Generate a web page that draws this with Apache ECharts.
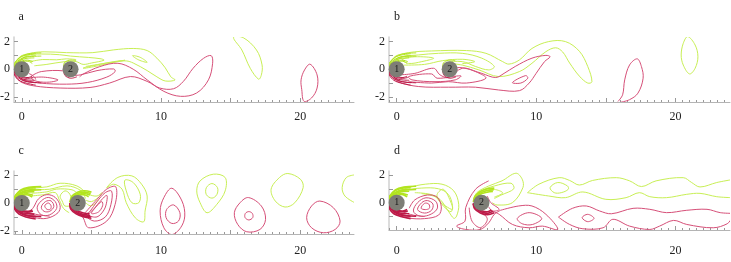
<!DOCTYPE html>
<html><head><meta charset="utf-8">
<style>html,body{margin:0;padding:0;background:#fff}#c{width:731px;height:262px}</style>
<script src="https://cdn.jsdelivr.net/npm/echarts@6/dist/echarts.min.js"></script>
</head><body><div id="c"></div>
<script>
// Tick values and labels
const xLabelTicks = [0, 10, 20];
const xMajorTicks = [0, 5, 10, 15, 20];
const xMinorTicks = [-0.5,0.5,1,1.5,2,2.5,3,3.5,4,4.5,5.5,6,6.5,7,7.5,8,8.5,9,9.5,10.5,11,11.5,12,12.5,13,13.5,14,14.5,15.5,16,16.5,17,17.5,18,18.5,19,19.5,20.5,21,21.5,22,22.5,23,23.5];
const yLabelTicks = [-2, 0, 2];
const yAllTicks = [-2, -1, 0, 1, 2];
const panelLetters = ['a', 'b', 'c', 'd'];
const cylinderNames = ['1', '2'];
const cylinderX = { a: [0, 3.5], b: [0, 3.8], c: [0, 4.02], d: [0, 6.08] };

// Shared crescents on the front of cylinder 1 (data units)
const frontGreen = [
 [[-.55,0],[-.52,.42],[-.2,.8],[.3,1.02],[1,1.12]],
 [[-.55,0],[-.46,.4],[-.12,.72],[.3,.9],[1,.98]],
 [[-.55,.03],[-.42,.36],[-.1,.64],[.3,.78],[.9,.82]],
 [[-.55,.05],[-.36,.4],[0,.6],[.4,.66],[.8,.55]],
 [[-.55,.05],[-.3,.32],[.05,.54],[.45,.58],[.75,.42]],
 [[-.5,.1],[-.25,.5],[.15,.82],[.7,.92],[1.4,.95]],
 [[-.5,.45],[-.1,.92],[.5,1.12],[1.4,1.18]]
];
const frontRed = [
 [[-.55,0],[-.52,-.42],[-.2,-.8],[.3,-1],[1,-1.15]],
 [[-.55,0],[-.46,-.4],[-.12,-.72],[.3,-.88],[1,-.98]],
 [[-.55,-.03],[-.42,-.36],[-.1,-.64],[.3,-.76],[.9,-.8]],
 [[-.55,-.05],[-.36,-.4],[0,-.6],[.4,-.66],[.8,-.6]],
 [[-.55,-.05],[-.3,-.32],[.05,-.54],[.45,-.6],[.75,-.5]],
 [[-.5,-.1],[-.25,-.5],[.15,-.82],[.7,-.94],[1.4,-.98]]
];

// Crescents on the front of cylinder 2, per panel
const aFrontGreen = [ [[3,.1],[3.05,.45],[3.4,.65],[3.9,.62]] ];
const aFrontRed = [ [[3,-.1],[3.1,-.45],[3.5,-.65],[3.95,-.55]] ];
const bFrontGreen = [ [[3.3,.1],[3.35,.45],[3.7,.65],[4.2,.62]] ];
const bFrontRed = [ [[3.3,-.1],[3.4,-.45],[3.8,-.65],[4.25,-.55]] ];
const cFrontGreen = [
 [[3.45,.05],[3.6,.5],[4,.78],[4.5,.88],[5,.78]],
 [[3.47,.05],[3.65,.45],[4.05,.7],[4.5,.78],[4.95,.68]],
 [[3.5,.05],[3.72,.42],[4.1,.62],[4.5,.68],[4.9,.58]],
 [[3.52,.1],[3.8,.4],[4.15,.58],[4.55,.58],[4.8,.45]]
];
const cFrontRed = [
 [[3.45,0],[3.5,-.42],[3.9,-.78],[4.4,-.98],[5,-1.1]],
 [[3.47,0],[3.58,-.42],[3.95,-.72],[4.4,-.9],[4.95,-1]],
 [[3.5,-.03],[3.65,-.4],[4,-.66],[4.4,-.82],[4.9,-.9]],
 [[3.52,-.05],[3.72,-.38],[4.05,-.6],[4.45,-.72],[4.85,-.78]]
];
const dFrontGreen = [
 [[5.5,.05],[5.6,.45],[6,.8],[6.5,1],[7,1.05]],
 [[5.53,.08],[5.7,.45],[6.05,.72],[6.5,.88],[6.95,.92]],
 [[5.56,.1],[5.8,.42],[6.1,.65],[6.5,.76],[6.9,.8]]
];
const dFrontRed = [
 [[5.5,-.03],[5.58,-.42],[6,-.74],[6.5,-.87],[7,-.72]],
 [[5.53,-.05],[5.68,-.4],[6.05,-.66],[6.5,-.77],[6.9,-.62]],
 [[5.56,-.05],[5.78,-.38],[6.1,-.58],[6.5,-.66],[6.8,-.52]]
];

// Panel a
const aGreen = [
 [[-.5,.4],[-.1,.85],[.6,1.15],[1.6,1.26],[3.2,1.2],[5.1,1.2],[6.6,1.4],[8,1.5],[9,1.35],[9.7,.8],[10.3,.1],[10.7,-.55],[11,-.78],[10.3,-.85],[9.7,-.55],[9,-.1],[8,.45],[7.5,.6],[6.6,.55],[5.1,.25],[4.4,.1]],
 [[-.4,.4],[.4,1],[1.4,1.1],[2.7,1.05],[3.5,.95],[4.8,.85],[5.7,.75],[5.9,.65],[5,.45],[4.4,.35],[3.9,.55],[3.1,.55],[1.8,.35],[.9,.25]],
 [[.6,.55],[1.5,.7],[2.5,.68],[3.2,.75],[3.9,.7]],
 [[7.95,.98],[8.5,.86],[9,.5],[8.4,.67],[7.95,.98]],
 [[4.4,.05],[5.5,.25],[6.8,.55],[7.4,.65],[7.2,.6],[5.8,.4],[4.6,.2]],
 [[15.2,2.3],[15.9,2.28],[16.85,1.39],[17.25,.31],[17.2,-.41],[17,-.72],[16.4,.07],[15.8,1.39],[15.2,2.3]]
];
const aRed = [
 [[-.5,-.4],[-.1,-.9],[.85,-1.2],[2.75,-1.36],[4.9,-1.32],[6.3,-1],[7.8,-.53],[9,-.88],[9.9,-1.36],[10.9,-1.41],[11.6,-.88],[12.3,.07],[13.05,.79],[13.6,.98],[13.7,.43],[13.4,-.77],[12.55,-1.72],[11.4,-1.96],[10.2,-1.6],[9,-.77],[8,0],[6.9,.43],[5.6,.19],[4.4,-.35],[4.15,-.55]],
 [[.7,-.48],[1.4,-.17],[3,-.12],[3.6,-.41],[4.2,-.41],[5.4,-.1],[6.6,.02],[6.7,-.17],[6.1,-.57],[4.7,-.96],[3.2,-1.08],[1.3,-1],[.1,-.77]],
 [[.7,-.65],[1.55,-.57],[2.6,-.77],[2,-.93],[1.1,-.88],[.7,-.65]],
 [[.5,-.3],[.9,-.55],[1,-.75]],
 [[20.7,.36],[21.2,-.41],[21.2,-1.36],[20.8,-2.08],[20.26,-2.32],[20.1,-1.48],[20.05,-.77],[20.3,-.05],[20.7,.36]]
];

// Panel b
const bGreen = [
 [[-.5,.3],[-.1,.87],[.85,1.2],[2.5,1.32],[5,1.35],[6.4,1.15],[7.6,.55],[8.05,.37],[8.8,.67],[9.7,1.5],[10.9,2],[12.1,2],[13.1,1.3],[13.7,.2],[14,-.9],[13.7,-1],[13.1,-.5],[12.4,.45],[11.9,1.25],[11.4,1.55],[10.7,1.27],[9.7,.43],[8.8,-.17],[7.3,-.53],[5.9,-.05],[4.7,.3],[3.7,.43]],
 [[-.4,.2],[.35,.87],[1.55,1.03],[3,1.15],[4.7,1.15],[6.1,.8],[7,.2],[6.6,-.05],[5.65,.2],[4.7,.55],[3.5,.43],[3.3,-.17]],
 [[.4,.7],[1.3,.9],[2.65,.8],[1.8,.55],[.85,.42],[.4,.7]],
 [[.5,.3],[2,.35],[3.3,.62],[4.7,.72],[5.6,.55],[4.7,.4]],
 [[20.87,2.36],[21.4,1.75],[21.6,.9],[21.4,.07],[21,-.34],[20.55,.3],[20.4,1.03],[20.55,1.875],[20.87,2.36]]
];
const bRed = [
 [[-.5,-.4],[.1,-.9],[1.55,-1.25],[3.7,-1.3],[5.65,-1.3],[7.3,-1.5],[8.8,-1.55],[9.5,-1],[10,-.3],[10.6,.55],[11,.9],[10.7,1],[9.7,.8],[8.5,.2],[7.7,-.3],[7.1,-.6],[6.1,-.3],[4.9,.07],[4.2,.07],[3.9,-.4]],
 [[.35,-.4],[1.3,-.3],[2.65,.07],[3.1,-.4],[3.7,-.6],[4.7,.07],[5.65,-.17],[6.4,-.65],[5,-1],[3.7,-.9],[2.5,-1],[.85,-.9]],
 [[.85,-.53],[2.5,-.34],[2.9,-.65],[4.6,-.48],[4.2,-.77],[2.75,-.9],[1.1,-.77],[.85,-.53]],
 [[8.3,-.96],[9.25,-.46],[9.4,-.65],[8.9,-1],[8.3,-.96]],
 [[15.87,-2.33],[16.2,-1.85],[16.35,-.77],[16.7,.31],[17.25,.75],[17.55,.19],[17.67,-.65],[17.3,-1.73],[16.7,-2.2],[16,-2.4]]
];

// Panel c
const cGreen = [
 [[-.5,.27],[-.1,.82],[.85,1.06],[1.8,1.16],[2.75,1.42],[3.95,1.23],[4.8,.63],[5.4,.5],[5.75,.75]],
 [[-.35,.27],[.6,.87],[2,.99],[3.25,1.23],[4.2,.92],[4.55,.39],[4.4,.14]],
 [[2.75,.5],[3.1,.87],[3.45,.63],[3.6,-.1],[3.1,-.22],[2.9,.14],[2.75,.5]],
 [[.6,.5],[1.6,.6],[2.4,.75],[2.7,.2],[3,-.4],[3.4,-.7]],
 [[.7,.7],[1.8,.8],[2.5,1],[3.6,.95],[4,.7]],
 [[4.6,.2],[5,.1],[5.5,.4],[5.8,.72]],
 [[4.6,0],[4.9,-.2],[5.2,-.1],[5.5,.2]],
 [[6.1,1.1],[6.9,1.84],[7.9,1.95],[8.6,1.35],[9,.5],[8.85,-.58],[8.75,-1.35],[8.15,-1.07],[7.5,.02],[7.2,.99],[6.6,1.35],[6.1,1.1]],
 [[7.4,1.64],[8,1.47],[8.5,.63],[8.4,.02],[7.9,.02],[7.5,.87],[7.4,1.64]],
 [[12.8,1.59],[13.75,2.07],[14.6,1.83],[14.6,.87],[14,-.1],[13.3,-.7],[12.8,.02],[12.56,.87],[12.8,1.59]],
 [[13.65,1.4],[14.05,1.1],[14,.6],[13.65,.35],[13.25,.6],[13.25,1.1],[13.65,1.4]],
 [[18.5,1.83],[19.1,2.12],[20,1.71],[20.2,1.11],[19.6,.02],[18.9,-.29],[18.2,.14],[17.9,.99],[18.5,1.83]],
 [[23.9,2.02],[23.3,1.83],[23,1.11],[23.2,.5],[23.9,.02]]
];
const cRed = [
 [[-.5,-.2],[-.1,-.75],[.9,-1.05],[1.8,-1.1],[2.6,-.7],[2.75,-.2],[2.4,.4],[1.8,.6],[1.2,.3],[.85,-.3],[.6,-.6]],
 [[1.1,-.35],[1.4,.15],[1.9,.4],[2.4,.1],[2.5,-.4],[2,-.85],[1.4,-.85],[1.1,-.35]],
 [[1.4,-.3],[1.7,.1],[2.1,.15],[2.3,-.25],[2,-.6],[1.6,-.6],[1.4,-.3]],
 [[1.65,-.2],[1.9,0],[2.1,-.2],[2.05,-.45],[1.8,-.45],[1.65,-.2]],
 [[3.95,-.46],[4.4,-1.06],[4.8,-1.78],[6.1,-1.3],[6.7,-.1],[6.75,1.16],[6.1,1],[5.4,.26],[4.55,-.7]],
 [[4.6,-.9],[5.2,-1.3],[6,-1],[6.4,-.1],[6.45,.85],[6,.75],[5.4,.1],[4.9,-.6],[4.6,-.9]],
 [[4.8,-.85],[5.4,-1],[5.9,-.5],[6.1,.1],[6.1,.55],[5.7,.2],[5.2,-.4],[4.8,-.85]],
 [[5,-.75],[5.5,-.65],[5.8,-.2],[5.75,.1],[5.4,-.2],[5,-.75]],
 [[.5,-.7],[1.2,-.85],[2,-.95]],
 [[10.77,1.06],[11.5,.14],[11.7,-.94],[11.4,-1.78],[10.77,-2.27],[10.2,-1.78],[9.93,-.58],[10.2,.39],[10.77,1.06]],
 [[10.9,-.14],[11.35,-.7],[11.25,-1.3],[10.77,-1.47],[10.36,-1.06],[10.4,-.46],[10.9,-.14]],
 [[16.27,.39],[17.2,-.22],[17.5,-1.18],[17.1,-1.9],[16.15,-2.07],[15.5,-1.54],[15.26,-.7],[15.67,.02],[16.27,.39]],
 [[16.3,-.62],[16.55,-.75],[16.58,-1.05],[16.3,-1.22],[16.03,-1.05],[16.05,-.75],[16.3,-.62]],
 [[21.4,.14],[22.37,-.34],[22.85,-1.3],[22.5,-1.9],[21.65,-2.14],[20.8,-1.78],[20.45,-1.06],[20.8,-.22],[21.4,.14]]
];

// Panel d
const dGreen = [
 [[-.5,.36],[-.1,.72],[.85,1.08],[2.05,1.33],[3.25,1.33],[4.1,.84],[4.45,-.12],[4.3,-.96],[4.1,-1.13],[3.7,-.6],[3.1,.24],[2.4,.6],[1.3,.72]],
 [[-.4,.3],[.5,.85],[1.8,1.05],[3,1],[3.7,.6],[4,-.2],[3.9,-.65],[3.4,-.3],[2.8,.4],[1.8,.65]],
 [[2.9,.6],[3.35,.96],[3.85,.12],[4,-.48],[3.5,-.24],[3.05,.12],[2.9,.6]],
 [[5.5,.12],[5.75,.72],[6.6,1.2],[7.55,1.57],[8.55,2.12],[9,1.69],[9.05,1.08],[8.3,0],[7.2,-.17],[6.85,0]],
 [[5.5,.2],[6,.8],[7,1.2],[8.2,1.4],[8.4,1],[7.5,.55],[7,.3]],
 [[5.6,.25],[6.2,.8],[7,.95],[7.6,.7],[7,.4]],
 [[9.38,.72],[10.2,1.33],[11.65,1.8],[12.4,1.6],[13.1,1.27],[14.05,1.6],[15.75,1.8],[16.7,1.57],[17.55,1.16],[18.6,1.57],[20.55,1.8],[21.15,1.45],[21.75,1.13],[22.95,1.45],[24,1.65]],
 [[24,.36],[22.95,.43],[21.75,.67],[20.8,.6],[19.35,.36],[18.15,.43],[17.4,.72],[16.45,.36],[15,.24],[13.35,.77],[12.1,.36],[10.9,.48],[9.38,.72]],
 [[11,1.08],[11.55,1.45],[12.25,1.2],[12.3,.96],[11.8,.72],[11.3,.72],[11,1.08]]
];
const dRed = [
 [[-.5,-.2],[-.1,-.8],[.8,-1.1],[2,-1.15],[3,-.9],[3.2,-.3],[2.9,.4],[2.2,.55],[1.3,.2],[.9,-.4]],
 [[1.2,-.6],[1.5,0],[2.1,.35],[2.8,.1],[2.9,-.45],[2.3,-.9],[1.6,-.95],[1.2,-.6]],
 [[1.5,-.5],[1.8,0],[2.2,.15],[2.6,-.1],[2.5,-.55],[2,-.75],[1.5,-.5]],
 [[1.75,-.4],[2,-.05],[2.3,-.1],[2.35,-.4],[2.05,-.5],[1.75,-.4]],
 [[.5,-.7],[1.2,-.9],[2,-1]],
 [[6.6,1.57],[5.65,.96],[4.95,-.36],[4.9,-1.33],[4.3,-1.69],[4.95,-1.93],[6,-1.93],[6.6,-1.45],[7,-.84],[7.45,-.55]],
 [[7.45,-.55],[8.75,-.24],[9.7,-.24],[10.7,-.84],[11.55,-1.93],[10.45,-1.69],[9.5,-1.81],[8.3,-1.57],[7.35,-.84],[6.85,-.6]],
 [[5.2,-.36],[5.4,-1.33],[6,-1.8],[6.5,-1.2],[6,-.6],[5.4,-.12]],
 [[6.5,.48],[6.75,0],[7.35,-.48],[6.85,-.6],[6.6,-.3]],
 [[8.65,-1.13],[9.5,-.72],[10.4,-1.13],[9.75,-1.57],[9,-1.52],[8.65,-1.13]],
 [[11.6,-1.04],[12.6,-.41],[13.6,-.24],[14.55,-.6],[15.4,-.8],[16.95,-.41],[18.15,-.48],[19.35,-.72],[20.8,-.55],[22.25,-.48],[23.2,-.72],[24,-.77]],
 [[24,-1.16],[23.7,-1.52],[22.7,-1.81],[20.8,-1.57],[19.85,-1.28],[18.85,-1.69],[18.15,-1.93],[16.7,-1.69],[15.5,-1.2],[14.8,-1.81],[13.35,-1.88],[12.4,-1.57],[11.6,-1.04]],
 [[13.3,-1.08],[13.7,-.84],[14.15,-1.13],[13.7,-1.37],[13.3,-1.08]]
];

const panelContours = {
  a: { green: aGreen, red: aRed, frontG: aFrontGreen, frontR: aFrontRed },
  b: { green: bGreen, red: bRed, frontG: bFrontGreen, frontR: bFrontRed },
  c: { green: cGreen, red: cRed, frontG: cFrontGreen, frontR: cFrontRed },
  d: { green: dGreen, red: dRed, frontG: dFrontGreen, frontR: dFrontRed }
};

// Layout of each panel (pixels) and its axis window
const layout = {
  a: { left: 14,  top: 37,  width: 340, height: 65, xMin: -.56, xMax: 23.85, yMin: -2.37, yMax: 2.33, margin: 9,  lx: 18.5,  ly: 11, frontW: 1 },
  b: { left: 389, top: 37,  width: 341, height: 65, xMin: -.55, xMax: 23.9,  yMin: -2.37, yMax: 2.33, margin: 9,  lx: 394, ly: 11, frontW: 1 },
  c: { left: 14,  top: 171, width: 340, height: 63, xMin: -.56, xMax: 23.85, yMin: -2.23, yMax: 2.3,  margin: 11, lx: 18.5,  ly: 145, frontW: 1.6 },
  d: { left: 389, top: 171, width: 341, height: 59, xMin: -.55, xMax: 23.9,  yMin: -1.97, yMax: 2.28, margin: 15, lx: 394, ly: 145, frontW: 1.6 }
};

const GREEN = '#c8ef55', RED = '#d64f78', AXIS = '#b4b4b4', TEXT = '#222', FONT = '"Liberation Serif", serif';
const grids = [], xAxes = [], yAxes = [], series = [], titles = [];

panelLetters.forEach((k, i) => {
  const L = layout[k];
  grids.push({ left: L.left, top: L.top, width: L.width, height: L.height, outerBoundsMode: 'none' });
  titles.push({ text: k, left: L.lx, top: L.ly, padding: 0, textStyle: { fontFamily: FONT, fontSize: 12, fontWeight: 'normal', color: TEXT } });
  xAxes.push({
    gridIndex: i, type: 'value', min: L.xMin, max: L.xMax, splitLine: { show: false }, position: 'bottom',
    axisLine: { onZero: false, lineStyle: { color: AXIS, width: 1 } },
    axisTick: { inside: true, length: 4, lineStyle: { color: '#999', width: 1 }, customValues: xMajorTicks },
    axisLabel: { customValues: xLabelTicks, margin: L.margin, fontFamily: FONT, fontSize: 12, color: TEXT }
  });
  xAxes.push({
    gridIndex: i, type: 'value', min: L.xMin, max: L.xMax, splitLine: { show: false }, position: 'bottom',
    axisLine: { show: false, onZero: false },
    axisTick: { inside: true, length: 2, lineStyle: { color: '#999', width: 1 }, customValues: xMinorTicks },
    axisLabel: { show: false }
  });
  yAxes.push({
    gridIndex: i, type: 'value', min: L.yMin, max: L.yMax, splitLine: { show: false },
    axisLine: { onZero: false, lineStyle: { color: '#d0d0d0', width: 1.5 } },
    axisTick: { inside: true, length: 4, lineStyle: { color: '#999', width: 1 }, customValues: yAllTicks },
    axisLabel: { customValues: yLabelTicks, margin: 4, fontFamily: FONT, fontSize: 12, color: TEXT, formatter: v => String(v) }
  });
  const ax = { xAxisIndex: i * 2, yAxisIndex: i };
  const addLine = (pts, color, w) => {
    const last = pts[pts.length - 1];
    const closed = pts.length > 3 && pts[0][0] === last[0] && pts[0][1] === last[1];
    const drawn = closed ? pts.slice(0, -1) : pts;
    series.push({
      ...ax, type: 'custom', coordinateSystem: 'cartesian2d', data: pts, encode: { x: 0, y: 1 }, clip: true,
      silent: true, animation: false,
      renderItem: (params, api) => {
        if (params.dataIndex !== 0) return { type: 'group', children: [] };
        return {
          type: closed ? 'polygon' : 'polyline',
          shape: { points: drawn.map(p => api.coord(p)), smooth: 0.35, smoothConstraint: false },
          style: { fill: 'none', stroke: color, lineWidth: w }
        };
      }
    });
  };
  const P = panelContours[k];
  P.green.forEach(p => addLine(p, GREEN, 1));
  P.red.forEach(p => addLine(p, RED, 1));
  frontGreen.forEach(p => addLine(p, '#b2e41f', L.frontW));
  frontRed.forEach(p => addLine(p, '#bd1a48', L.frontW));
  P.frontG.forEach(p => addLine(p, '#b2e41f', L.frontW));
  P.frontR.forEach(p => addLine(p, '#bd1a48', L.frontW));
  series.push({
    ...ax, type: 'scatter', z: 5, symbol: 'circle', symbolSize: 16, silent: true, animation: false,
    data: cylinderX[k].map((x, n) => ({ value: [x, 0], label: { formatter: cylinderNames[n] } })),
    itemStyle: { color: '#7e7e76', opacity: 1 },
    label: { show: true, position: 'inside', color: '#1a1a1a', fontFamily: FONT, fontSize: 10 }
  });
});

const chart = echarts.init(document.getElementById('c'), null, { renderer: 'canvas' });
chart.setOption({ animation: false, backgroundColor: '#fff', title: titles, grid: grids, xAxis: xAxes, yAxis: yAxes, series });
</script></body></html>
